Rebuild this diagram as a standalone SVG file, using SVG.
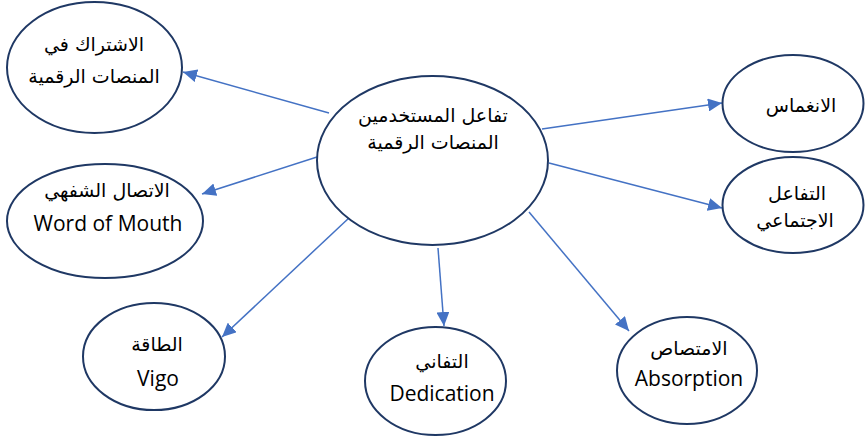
<svg xmlns="http://www.w3.org/2000/svg" width="865" height="437" viewBox="0 0 865 437">
<style>
.node ellipse{fill:#fff;stroke:#1f3864;stroke-width:2}
.ar{font-family:"DejaVu Sans","Noto Sans",sans-serif;font-size:19px;fill:#000;text-anchor:middle}
.en{font-family:"Open Sans","Liberation Sans",sans-serif;font-size:21px;fill:#000;text-anchor:middle}
.conn line{stroke:#4472c4;stroke-width:1.5;fill:none}
</style>
<defs>
<marker id="arr" markerUnits="userSpaceOnUse" markerWidth="15" markerHeight="13" refX="14" refY="6.5" orient="auto">
<path d="M0,0 L14,6.5 L0,13 Z" fill="#4472c4"/>
</marker>
</defs>
<rect width="865" height="437" fill="#fff"/>
<g id="connectors" class="conn">
<line x1="329" y1="113" x2="183" y2="72" marker-end="url(#arr)"/>
<line x1="317" y1="157" x2="202" y2="194" marker-end="url(#arr)"/>
<line x1="350" y1="217" x2="222" y2="337" marker-end="url(#arr)"/>
<line x1="438" y1="248" x2="444" y2="326" marker-end="url(#arr)"/>
<line x1="529" y1="212" x2="629" y2="331" marker-end="url(#arr)"/>
<line x1="542" y1="129" x2="722" y2="103" marker-end="url(#arr)"/>
<line x1="549" y1="163" x2="722" y2="208" marker-end="url(#arr)"/>
</g>
<g id="center" class="node">
<ellipse cx="432.5" cy="160.5" rx="115.5" ry="84.5"/>
<text class="ar" x="433" y="122">تفاعل المستخدمين</text>
<text class="ar" x="433" y="149">المنصات الرقمية</text>
</g>
<g id="subscription" class="node">
<ellipse cx="94.5" cy="67.5" rx="87.5" ry="65.5"/>
<text class="ar" x="94" y="51">الاشتراك في</text>
<text class="ar" x="94" y="83">المنصات الرقمية</text>
</g>
<g id="wordofmouth" class="node">
<ellipse cx="105" cy="221" rx="98" ry="57"/>
<text class="ar" x="107" y="197">الاتصال الشفهي</text>
<text class="en" x="108" y="231">Word of Mouth</text>
</g>
<g id="vigo" class="node">
<ellipse cx="154" cy="356.5" rx="71" ry="53.5"/>
<text class="ar" x="157" y="351">الطاقة</text>
<text class="en" x="158" y="386">Vigo</text>
</g>
<g id="dedication" class="node">
<ellipse cx="435.5" cy="381" rx="70.5" ry="54"/>
<text class="ar" x="442" y="368">التفاني</text>
<text class="en" x="442" y="401">Dedication</text>
</g>
<g id="absorption" class="node">
<ellipse cx="687" cy="370.5" rx="70" ry="53.5"/>
<text class="ar" x="689" y="355">الامتصاص</text>
<text class="en" x="689" y="386">Absorption</text>
</g>
<g id="immersion" class="node">
<ellipse cx="793" cy="103.5" rx="70.5" ry="48.5"/>
<text class="ar" x="801" y="112">الانغماس</text>
</g>
<g id="social" class="node">
<ellipse cx="793" cy="205" rx="70.5" ry="48"/>
<text class="ar" x="797" y="200">التفاعل</text>
<text class="ar" x="795" y="227">الاجتماعي</text>
</g>
</svg>
